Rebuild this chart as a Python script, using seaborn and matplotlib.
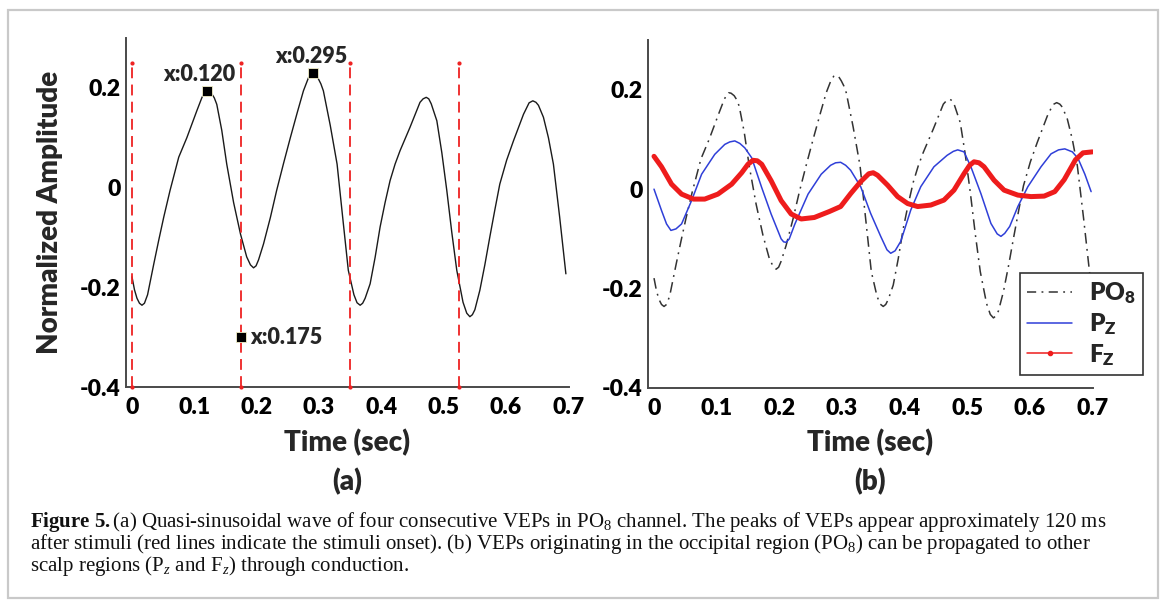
import matplotlib
matplotlib.use("Agg")
import matplotlib.pyplot as plt
import seaborn as sns
import pandas as pd
from matplotlib.lines import Line2D
from matplotlib.patches import Rectangle

# ---------------- data ----------------
po8_t = [0.000, 0.004, 0.008, 0.012, 0.016, 0.020, 0.025, 0.035, 0.043, 0.051,
         0.061, 0.075, 0.088, 0.104, 0.112, 0.116, 0.119, 0.123, 0.128, 0.132,
         0.136, 0.144, 0.152, 0.163, 0.174, 0.184, 0.190, 0.195, 0.199, 0.203,
         0.211, 0.222, 0.232, 0.243, 0.254, 0.265, 0.275, 0.283, 0.287, 0.291,
         0.295, 0.299, 0.303, 0.307, 0.318, 0.329, 0.338, 0.347, 0.356, 0.361,
         0.366, 0.370, 0.374, 0.382, 0.390, 0.398, 0.406, 0.414, 0.422, 0.430,
         0.446, 0.462, 0.467, 0.472, 0.476, 0.480, 0.489, 0.497, 0.505, 0.513,
         0.521, 0.531, 0.537, 0.542, 0.546, 0.550, 0.558, 0.566, 0.574, 0.582,
         0.590, 0.601, 0.612, 0.628, 0.637, 0.643, 0.648, 0.652, 0.660, 0.668,
         0.676, 0.686, 0.696]
po8_v = [-0.179, -0.205, -0.222, -0.232, -0.236, -0.232, -0.215, -0.153, -0.105, -0.059,
         -0.006, 0.061, 0.100, 0.154, 0.180, 0.190, 0.194, 0.193, 0.188, 0.180,
         0.167, 0.115, 0.047, -0.030, -0.093, -0.139, -0.155, -0.161, -0.157, -0.145,
         -0.113, -0.060, -0.006, 0.048, 0.100, 0.150, 0.194, 0.220, 0.227, 0.229,
         0.226, 0.218, 0.208, 0.194, 0.125, 0.047, -0.060, -0.166, -0.215, -0.231,
         -0.236, -0.232, -0.222, -0.193, -0.140, -0.079, -0.030, 0.014, 0.047, 0.074,
         0.121, 0.171, 0.178, 0.181, 0.178, 0.168, 0.134, 0.070, -0.006, -0.090,
         -0.166, -0.230, -0.252, -0.259, -0.255, -0.245, -0.206, -0.155, -0.099, -0.045,
         0.007, 0.055, 0.094, 0.147, 0.170, 0.174, 0.171, 0.165, 0.141, 0.100,
         0.047, -0.059, -0.173]

pz_t = [0.000, 0.012, 0.020, 0.027, 0.035, 0.044, 0.060, 0.076, 0.097, 0.113,
        0.121, 0.129, 0.137, 0.145, 0.156, 0.172, 0.187, 0.203, 0.207, 0.211,
        0.216, 0.225, 0.246, 0.267, 0.282, 0.290, 0.298, 0.306, 0.314, 0.330,
        0.346, 0.362, 0.372, 0.378, 0.385, 0.394, 0.410, 0.426, 0.447, 0.468,
        0.478, 0.485, 0.495, 0.506, 0.522, 0.538, 0.548, 0.554, 0.560, 0.568,
        0.581, 0.597, 0.618, 0.634, 0.646, 0.656, 0.668, 0.677, 0.688, 0.698]
pz_v = [0.000, -0.043, -0.070, -0.083, -0.080, -0.070, -0.023, 0.030, 0.070, 0.090,
        0.095, 0.097, 0.092, 0.083, 0.063, 0.003, -0.050, -0.100, -0.106, -0.107,
        -0.100, -0.070, -0.010, 0.030, 0.048, 0.053, 0.054, 0.048, 0.038, 0.005,
        -0.049, -0.095, -0.122, -0.129, -0.124, -0.105, -0.042, 0.005, 0.045, 0.068,
        0.076, 0.079, 0.075, 0.045, -0.009, -0.069, -0.090, -0.095, -0.089, -0.075,
        -0.035, 0.005, 0.045, 0.071, 0.079, 0.081, 0.075, 0.062, 0.030, -0.005]

fz_t = [0.000, 0.012, 0.028, 0.044, 0.063, 0.081, 0.102, 0.124, 0.140, 0.150,
        0.158, 0.165, 0.172, 0.187, 0.203, 0.219, 0.235, 0.256, 0.280, 0.298,
        0.314, 0.330, 0.343, 0.350, 0.357, 0.373, 0.389, 0.405, 0.421, 0.442,
        0.463, 0.479, 0.495, 0.504, 0.511, 0.519, 0.527, 0.543, 0.559, 0.581,
        0.602, 0.623, 0.640, 0.655, 0.673, 0.685, 0.700]
fz_v = [0.066, 0.045, 0.010, -0.010, -0.020, -0.020, -0.010, 0.010, 0.033, 0.050,
        0.058, 0.057, 0.050, 0.017, -0.023, -0.050, -0.060, -0.057, -0.045, -0.035,
        -0.009, 0.015, 0.031, 0.033, 0.028, 0.008, -0.015, -0.029, -0.035, -0.032,
        -0.022, -0.002, 0.031, 0.048, 0.055, 0.053, 0.045, 0.018, -0.002, -0.012,
        -0.015, -0.014, -0.005, 0.019, 0.059, 0.073, 0.075]

stim_onsets = [0.0, 0.175, 0.350, 0.525]
stim_top = 0.25

ann_x = [0.120, 0.291, 0.175]
ann_y = [0.194, 0.229, -0.300]
ann_labels = ["x:0.120", "x:0.295", "x:0.175"]

x_ticks = [0, 0.1, 0.2, 0.3, 0.4, 0.5, 0.6, 0.7]
x_ticklabels = ["0", "0.1", "0.2", "0.3", "0.4", "0.5", "0.6", "0.7"]
y_ticks = [-0.4, -0.2, 0, 0.2]
y_ticklabels = ["-0.4", "-0.2", "0", "0.2"]
y_minor = [-0.3, -0.1, 0.1]

legend_labels = [r"$\mathsf{PO_8}$", r"$\mathsf{P_Z}$", r"$\mathsf{F_Z}$"]

# ---------------- style ----------------
sns.set_theme(style="white")
plt.rcParams["font.family"] = ["Lato", "DejaVu Sans"]
plt.rcParams["font.weight"] = "bold"
plt.rcParams["axes.labelweight"] = "bold"
plt.rcParams["mathtext.fontset"] = "custom"
plt.rcParams["mathtext.rm"] = "Liberation Serif:weight=normal"
plt.rcParams["mathtext.it"] = "Liberation Serif:italic:weight=normal"
plt.rcParams["mathtext.bf"] = "Liberation Serif:weight=bold"
plt.rcParams["mathtext.sf"] = "Lato:weight=heavy"

W, H = 1168, 605
fig = plt.figure(figsize=(W / 100, H / 100), dpi=100)
fig.patch.set_facecolor("white")

def fx(px):
    return px / W

def fy(py):
    return 1 - py / H

axA = fig.add_axes([fx(126), fy(387), fx(569) - fx(126), fy(38) - fy(387)])
axB = fig.add_axes([fx(648), fy(388), fx(1093) - fx(648), fy(40) - fy(388)])

spine_col = "#4a4a4a"
for ax in (axA, axB):
    ax.set_facecolor("white")
    ax.set_xlim(-0.0096, 0.701)
    ax.set_ylim(-0.4, 0.3)
    for s in ("top", "right"):
        ax.spines[s].set_visible(False)
    for s in ("left", "bottom"):
        ax.spines[s].set_color(spine_col)
        ax.spines[s].set_linewidth(1.4)
    ax.set_xticks(x_ticks)
    ax.set_xticklabels(x_ticklabels)
    ax.set_yticks(y_ticks)
    ax.set_yticklabels(y_ticklabels)
    ax.set_yticks(y_minor, minor=True)
    ax.tick_params(axis="both", which="both", direction="in", length=5, width=1.1,
                   color=spine_col, labelsize=16.5, labelcolor="black")
    ax.tick_params(axis="x", pad=7)
    ax.tick_params(axis="y", pad=4)
    for lab in ax.get_xticklabels() + ax.get_yticklabels():
        lab.set_fontweight("heavy")
    ax.grid(False)

# ---------------- panel (a) ----------------
dfA = pd.DataFrame({"t": po8_t, "v": po8_v})
sns.lineplot(data=dfA, x="t", y="v", ax=axA, color="#1a1a1a", linewidth=1.0,
             estimator=None, sort=False)
for xo in stim_onsets:
    axA.plot([xo, xo], [-0.4, stim_top], color="#ee2222", linestyle=(0, (6, 3.5)),
             linewidth=1.3, marker=".", markersize=4, clip_on=False, zorder=3)
axA.plot(ann_x, ann_y, linestyle="none", marker="s", markersize=6.5,
         color="black", markeredgecolor="#f3f0c8", markeredgewidth=0.6, zorder=5)
ann_kw = dict(va="center", fontsize=15.5, fontweight="heavy")
axA.text(0.107, 0.226, ann_labels[0], ha="center", **ann_kw)
axA.text(0.288, 0.262, ann_labels[1], ha="center", **ann_kw)
axA.text(0.190, -0.300, ann_labels[2], ha="left", **ann_kw)
axA.set_xlabel("")
axA.set_ylabel("")

# ---------------- panel (b) ----------------
dfP = pd.DataFrame({"t": po8_t, "v": po8_v})
dfZ = pd.DataFrame({"t": pz_t, "v": pz_v})
dfF = pd.DataFrame({"t": fz_t, "v": fz_v})
sns.lineplot(data=dfP, x="t", y="v", ax=axB, color="#333333", linewidth=1.1,
             linestyle=(0, (7, 3.5, 1.2, 3.5)), estimator=None, sort=False)
sns.lineplot(data=dfZ, x="t", y="v", ax=axB, color="#2f3fd8", linewidth=1.1,
             estimator=None, sort=False)
sns.lineplot(data=dfF, x="t", y="v", ax=axB, color="#ee1c1c", linewidth=3.6,
             estimator=None, sort=False, solid_capstyle="round",
             solid_joinstyle="round")
axB.set_xlabel("")
axB.set_ylabel("")

handles = [
    Line2D([], [], color="#333333", linewidth=1.1, linestyle=(0, (6, 3.5, 1.2, 3.5))),
    Line2D([], [], color="#2f3fd8", linewidth=1.1),
    Line2D([], [], color="#ee1c1c", linewidth=1.1, marker=".", markersize=6),
]
leg = axB.legend(handles, legend_labels, loc="upper left",
                 bbox_to_anchor=(fx(1020), fy(273)), bbox_transform=fig.transFigure,
                 fontsize=17.5, frameon=True, fancybox=False, framealpha=1,
                 handlelength=1.85, handletextpad=0.7, labelspacing=0.2,
                 borderpad=0.3, borderaxespad=0)
leg.get_frame().set_edgecolor("#333333")
leg.get_frame().set_linewidth(1.2)

# ---------------- figure texts ----------------
lab_kw = dict(fontsize=20, fontweight="heavy", ha="center", va="center")
fig.text(fx(347), fy(443), "Time (sec)", **lab_kw)
fig.text(fx(870), fy(443), "Time (sec)", **lab_kw)
fig.text(fx(347), fy(482), "(a)", **lab_kw)
fig.text(fx(870), fy(482), "(b)", **lab_kw)
fig.text(fx(50), fy(212), "Normalized Amplitude", rotation=90, **lab_kw)

cap_kw = dict(fontsize=15, family="Liberation Serif", fontweight="normal",
              ha="left", va="baseline", color="#111111")
fig.text(fx(30), fy(527),
         r"$\mathbf{Figure\ 5.}$(a) Quasi-sinusoidal wave of four consecutive VEPs in PO$_8$ "
         r"channel. The peaks of VEPs appear approximately 120 ms", **cap_kw)
fig.text(fx(30), fy(549),
         r"after stimuli (red lines indicate the stimuli onset). (b) VEPs originating in the "
         r"occipital region (PO$_8$) can be propagated to other", **cap_kw)
fig.text(fx(30), fy(571),
         r"scalp regions (P$_z$ and F$_z$) through conduction.", **cap_kw)

fig.patches.append(Rectangle((fx(8), fy(598)), fx(1158) - fx(8), fy(10) - fy(598),
                             transform=fig.transFigure, fill=False,
                             edgecolor="#c9c9c9", linewidth=1.6))

fig.savefig("out.png", dpi=100, facecolor="white")
